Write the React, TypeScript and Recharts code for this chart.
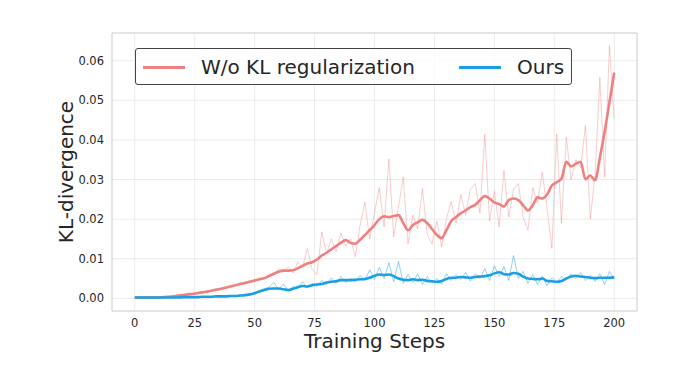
import React from "react";
import { LineChart, Line, XAxis, YAxis, CartesianGrid, ReferenceArea } from "recharts";

// training steps, sampled every 2 steps
const steps = Array.from({ length: 101 }, (_, i) => i * 2);

const xTicks = [0, 25, 50, 75, 100, 125, 150, 175, 200];
const yTicks = [0, 0.01, 0.02, 0.03, 0.04, 0.05, 0.06];

// W/o KL regularization: raw + smoothed
const noKlRaw = [
  0.0002, 0.0002, 0.0002, 0.0002, 0.0002, 0.0002, 0.0003, 0.0004, 0.0006, 0.0006,
  0.0009, 0.001, 0.0012, 0.0013, 0.0016, 0.0015, 0.0021, 0.002, 0.0026, 0.0025,
  0.0033, 0.0031, 0.004, 0.0037, 0.0045, 0.0041, 0.0052, 0.0048, 0.0062, 0.0058,
  0.0075, 0.0066, 0.0081, 0.0064, 0.0092, 0.0078, 0.0126, 0.0072, 0.006, 0.0168,
  0.0112, 0.015, 0.0118, 0.0165, 0.0132, 0.015, 0.0105, 0.0185, 0.0243, 0.015,
  0.0215, 0.028, 0.018, 0.0352, 0.0155, 0.023, 0.0306, 0.0138, 0.021, 0.0175,
  0.0277, 0.016, 0.0138, 0.0195, 0.013, 0.02, 0.0245, 0.019, 0.0262, 0.021,
  0.0275, 0.029, 0.0215, 0.0414, 0.0195, 0.027, 0.018, 0.0323, 0.0205, 0.0275,
  0.029, 0.0205, 0.0172, 0.028, 0.024, 0.0319, 0.0225, 0.0126, 0.0415, 0.019,
  0.0407, 0.03, 0.035, 0.033, 0.0436, 0.0201, 0.031, 0.0558, 0.0306, 0.0638,
  0.0453,
];
const noKlSmooth = [
  0.0002, 0.0002, 0.0002, 0.0002, 0.0002, 0.0002, 0.0003, 0.0004, 0.0005, 0.0007,
  0.0008, 0.001, 0.0011, 0.0013, 0.0015, 0.0017, 0.0019, 0.0022, 0.0024, 0.0027,
  0.003, 0.0033, 0.0036, 0.0039, 0.0042, 0.0045, 0.0048, 0.0051, 0.0056, 0.0062,
  0.0067, 0.007, 0.007, 0.0071, 0.0076, 0.0082, 0.0088, 0.0091, 0.0098, 0.0108,
  0.0115, 0.0124, 0.0132, 0.014, 0.0147, 0.014, 0.0138, 0.0148, 0.016, 0.0172,
  0.0185, 0.02, 0.0207, 0.0205, 0.0208, 0.021, 0.019, 0.0172, 0.0185, 0.0192,
  0.0198, 0.019, 0.0175, 0.016, 0.0152, 0.0172, 0.0195, 0.0205, 0.0215, 0.0222,
  0.023, 0.0236, 0.0248, 0.0258, 0.0252, 0.0242, 0.0238, 0.0232, 0.0248, 0.0252,
  0.0248, 0.0235, 0.0222, 0.0235, 0.0255, 0.0252, 0.0262, 0.0285, 0.0293, 0.0302,
  0.0345, 0.0333, 0.034, 0.0345, 0.03, 0.031, 0.0298, 0.0355, 0.042, 0.0495,
  0.057,
];

// Ours: raw + smoothed
const oursRaw = [
  0.0002, 0.0002, 0.0002, 0.0002, 0.0002, 0.0002, 0.0002, 0.0002, 0.0002, 0.0002,
  0.0003, 0.0003, 0.0003, 0.0003, 0.0004, 0.0004, 0.0004, 0.0005, 0.0005, 0.0005,
  0.0006, 0.0006, 0.0008, 0.0009, 0.0011, 0.0015, 0.002, 0.0024, 0.0028, 0.004,
  0.0022, 0.0036, 0.0018, 0.003, 0.0025, 0.0042, 0.0026, 0.0038, 0.003, 0.0045,
  0.0035, 0.0052, 0.0038, 0.0055, 0.004, 0.005, 0.0042, 0.0058, 0.0045, 0.0072,
  0.0048, 0.0078, 0.005, 0.009, 0.0042, 0.0093, 0.0038, 0.006, 0.004, 0.0062,
  0.0035, 0.0055, 0.0038, 0.005, 0.0036, 0.0062, 0.0045, 0.006, 0.0048, 0.0066,
  0.0044, 0.0062, 0.005, 0.0075, 0.0045, 0.0082, 0.0055, 0.008, 0.0045, 0.0108,
  0.005, 0.0068, 0.0038, 0.006, 0.0035, 0.0056, 0.0032, 0.0052, 0.004, 0.0055,
  0.0046, 0.0062, 0.005, 0.0065, 0.0045, 0.0058, 0.0043, 0.0062, 0.0035, 0.0068,
  0.005,
];
const oursSmooth = [
  0.0002, 0.0002, 0.0002, 0.0002, 0.0002, 0.0002, 0.0002, 0.0002, 0.0002, 0.0002,
  0.0003, 0.0003, 0.0003, 0.0003, 0.0004, 0.0004, 0.0004, 0.0005, 0.0005, 0.0005,
  0.0006, 0.0006, 0.0007, 0.0008, 0.001, 0.0013, 0.0017, 0.0021, 0.0024, 0.0025,
  0.0025, 0.0023, 0.0021, 0.0024, 0.0028, 0.0031, 0.003, 0.0033, 0.0035, 0.0036,
  0.004, 0.0042, 0.0043, 0.0046, 0.0046, 0.0046, 0.0047, 0.0048, 0.0049, 0.0052,
  0.0057, 0.006, 0.0059, 0.006, 0.0056, 0.005, 0.0047, 0.0046, 0.0048, 0.0046,
  0.0047, 0.0044, 0.0043, 0.0042, 0.0044, 0.0049, 0.0052, 0.0052, 0.0054, 0.0053,
  0.0052, 0.0054, 0.0055, 0.0056, 0.0058, 0.0063, 0.0066, 0.0061, 0.006, 0.0064,
  0.0062, 0.0055, 0.005, 0.0049, 0.0048, 0.005, 0.0044, 0.0043, 0.0042, 0.0044,
  0.005, 0.0055, 0.0057, 0.0055, 0.0054, 0.0052, 0.0051, 0.0052, 0.0052, 0.0052,
  0.0053,
];

const data = steps.map((step, i) => ({
  step,
  noKlRaw: noKlRaw[i],
  noKlSmooth: noKlSmooth[i],
  oursRaw: oursRaw[i],
  oursSmooth: oursSmooth[i],
}));

const RED = "#f08080";
const BLUE = "#1a9fe5";
const TEXT = "#262626";
const FONT = "'DejaVu Sans', sans-serif";

const X_DOMAIN: [number, number] = [-9.5, 209.5];
const Y_DOMAIN: [number, number] = [-0.0032, 0.067];

function LegendBox() {
  const line = (left: number, color: string) => (
    <div style={{ position: "absolute", left, top: 17, width: 42, height: 3, background: color }} />
  );
  const label = (left: number, text: string) => (
    <div style={{ position: "absolute", left, top: 5, fontSize: 20, lineHeight: "26px", color: TEXT, whiteSpace: "nowrap" }}>
      {text}
    </div>
  );
  return (
    <div
      style={{
        position: "absolute",
        left: 135,
        top: 48,
        width: 435,
        height: 35,
        border: "1px solid #444",
        borderRadius: 3,
        background: "rgba(255,255,255,0.8)",
        fontFamily: FONT,
      }}
    >
      {line(7, RED)}
      {label(65, "W/o KL regularization")}
      {line(323, BLUE)}
      {label(381, "Ours")}
    </div>
  );
}

export default function App() {
  return (
    <div style={{ position: "absolute", left: 0, top: 0, width: 696, height: 390, background: "#fff", fontFamily: FONT }}>
      <LineChart width={696} height={390} data={data} margin={{ top: 33, right: 59, bottom: 39, left: 52 }}>
        <CartesianGrid stroke="#ebebeb" strokeWidth={1} />
        <XAxis
          dataKey="step"
          type="number"
          domain={X_DOMAIN}
          ticks={xTicks}
          allowDataOverflow
          axisLine={false}
          tickLine={false}
          tickSize={0}
          tickMargin={8}
          height={40}
          tick={{ fontSize: 11.5, fill: TEXT, fontFamily: FONT }}
          label={{ value: "Training Steps", position: "insideBottom", offset: 3, style: { fontSize: 20, fill: TEXT, fontFamily: FONT } }}
        />
        <YAxis
          type="number"
          domain={Y_DOMAIN}
          ticks={yTicks}
          allowDataOverflow
          axisLine={false}
          tickLine={false}
          tickSize={0}
          tickMargin={8}
          width={60}
          tickFormatter={(v: number) => v.toFixed(2)}
          tick={{ fontSize: 11.5, fill: TEXT, fontFamily: FONT }}
          label={{ value: "KL-divergence", angle: -90, position: "insideLeft", offset: 14, style: { fontSize: 20, fill: TEXT, fontFamily: FONT, textAnchor: "middle" } }}
        />
        <ReferenceArea x1={X_DOMAIN[0]} x2={X_DOMAIN[1]} y1={Y_DOMAIN[0]} y2={Y_DOMAIN[1]} fill="none" stroke="#d4d4d4" ifOverflow="visible" />
        <Line dataKey="noKlRaw" stroke={RED} strokeOpacity={0.5} strokeWidth={0.8} dot={false} type="linear" isAnimationActive={false} />
        <Line dataKey="noKlSmooth" stroke={RED} strokeWidth={2.6} dot={false} type="monotone" isAnimationActive={false} />
        <Line dataKey="oursRaw" stroke={BLUE} strokeOpacity={0.6} strokeWidth={0.8} dot={false} type="linear" isAnimationActive={false} />
        <Line dataKey="oursSmooth" stroke={BLUE} strokeWidth={2.6} dot={false} type="monotone" isAnimationActive={false} />
      </LineChart>
      <LegendBox />
    </div>
  );
}
